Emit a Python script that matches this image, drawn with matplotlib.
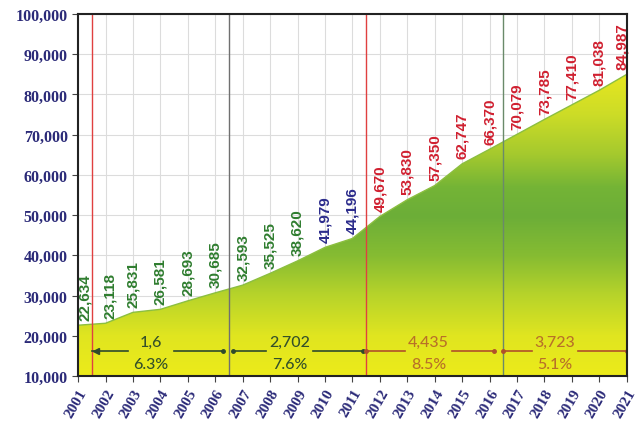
import numpy as np
import matplotlib
matplotlib.use("Agg")
import matplotlib.pyplot as plt
from matplotlib.colors import LinearSegmentedColormap

years = list(range(2001, 2022))
values = [22634, 23118, 25831, 26581, 28693, 30685, 32593, 35525, 38620, 41979,
          44196, 49670, 53830, 57350, 62747, 66370, 70079, 73785, 77410, 81038, 84987]

# plan periods: start, end, increase, growth rate
period_start = [2001.5, 2006.65, 2011.5, 2016.5]
period_end = [2006.3, 2011.4, 2016.15, 2021.0]
period_mid = [2003.66, 2008.7, 2013.78, 2018.38]
period_gain = ["1,6", "2,702", "4,435", "3,723"]
period_rate = ["6.3%", "7.6%", "8.5%", "5.1%"]
period_color = ["#34502a", "#34502a", "#b87028", "#b87028"]
period_line = ["#2f4a2c", "#2f4a2c", "#b0502a", "#b0502a"]

dividers = [2001.5, 2006.5, 2011.5, 2016.5]
divider_color = ["#e04040", "#707070", "#e04040", "#6a8a6a"]

# nudge the labels at the edges of the frame (points)
edge_nudge = {2001: 5, 2002: 3, 2021: -3.5}


def label_color(year):
    if year <= 2009:
        return "#2f7d2f"
    if year <= 2011:
        return "#2c2c8c"
    return "#d02030"


fig = plt.figure(figsize=(6.35, 4.27), dpi=100)
ax = fig.add_axes([0.123, 0.117, 0.864, 0.848])
ax.set_xlim(2001, 2021)
ax.set_ylim(10000, 100000)

ax.set_xticks(years)
ax.set_yticks(range(10000, 100001, 10000))
ax.grid(True, color="#dcdcdc", lw=0.8, zorder=0)
ax.set_axisbelow(True)

# gradient fill clipped to the area under the curve
grad = LinearSegmentedColormap.from_list("yg", [
    (0.00, "#eceb1a"), (0.11, "#e0e520"), (0.22, "#b8d42a"), (0.33, "#86bc32"),
    (0.44, "#6cae38"), (0.52, "#74b436"), (0.61, "#a4c92e"), (0.72, "#ccdc27"),
    (0.83, "#e6e620"), (1.00, "#eeea1c")])
poly = ax.fill_between(years, values, 10000, color="none", lw=0, zorder=1)
img = ax.imshow(np.linspace(0, 1, 256).reshape(-1, 1), cmap=grad, origin="lower",
                extent=[2001, 2021, 10000, 100000], aspect="auto", zorder=1)
img.set_clip_path(poly.get_paths()[0], transform=ax.transData)
ax.plot(years, values, color="#8cbf40", lw=1.0, zorder=2)

for x, c in zip(dividers, divider_color):
    ax.axvline(x, color=c, lw=1.0, zorder=3)

for i, (x0, x1, xm, g, r, tc, lc) in enumerate(zip(period_start, period_end, period_mid,
                                                   period_gain, period_rate,
                                                   period_color, period_line)):
    gap = 0.85
    ax.plot([x0, xm - gap], [16200, 16200], color=lc, lw=1.2, zorder=4)
    ax.plot([xm + gap, x1], [16200, 16200], color=lc, lw=1.2, zorder=4)
    ax.plot([x1], [16200], ls="none", marker="o", ms=2.5, color=lc, zorder=4)
    if i == 0:
        ax.plot([x0 + 0.15], [16200], ls="none", marker="<", ms=4, color=lc, zorder=4)
    else:
        ax.plot([x0], [16200], ls="none", marker="o", ms=2.5, color=lc, zorder=4)
    ax.text(xm, 18600, g, ha="center", va="center", color=tc, fontsize=11.5,
            family="Lato", fontweight="medium", zorder=5)
    ax.text(xm, 13000, r, ha="center", va="center", color=tc, fontsize=11.5,
            family="Lato", fontweight="medium", zorder=5)

for yr, v in zip(years, values):
    ax.annotate(f"{v:,}", (yr, v), xytext=(edge_nudge.get(yr, 0), 4),
                textcoords="offset points", rotation=90, ha="center", va="bottom",
                fontsize=11, fontweight="bold", family="Liberation Sans",
                color=label_color(yr), zorder=6)

for s in ax.spines.values():
    s.set_color("#222222")
    s.set_linewidth(1.5)
    s.set_zorder(7)

ax.tick_params(axis="both", direction="out", length=4, color="#444444")
ax.set_yticklabels([f"{v:,}" for v in range(10000, 100001, 10000)],
                   fontsize=11.5, fontweight="bold", family="Liberation Serif",
                   color="#2b2a78")
ax.set_xticklabels([str(y) for y in years], rotation=60, ha="right",
                   rotation_mode="anchor", fontsize=11, fontweight="bold",
                   family="Liberation Serif", color="#2b2a78")

fig.savefig("out.png", dpi=100)
